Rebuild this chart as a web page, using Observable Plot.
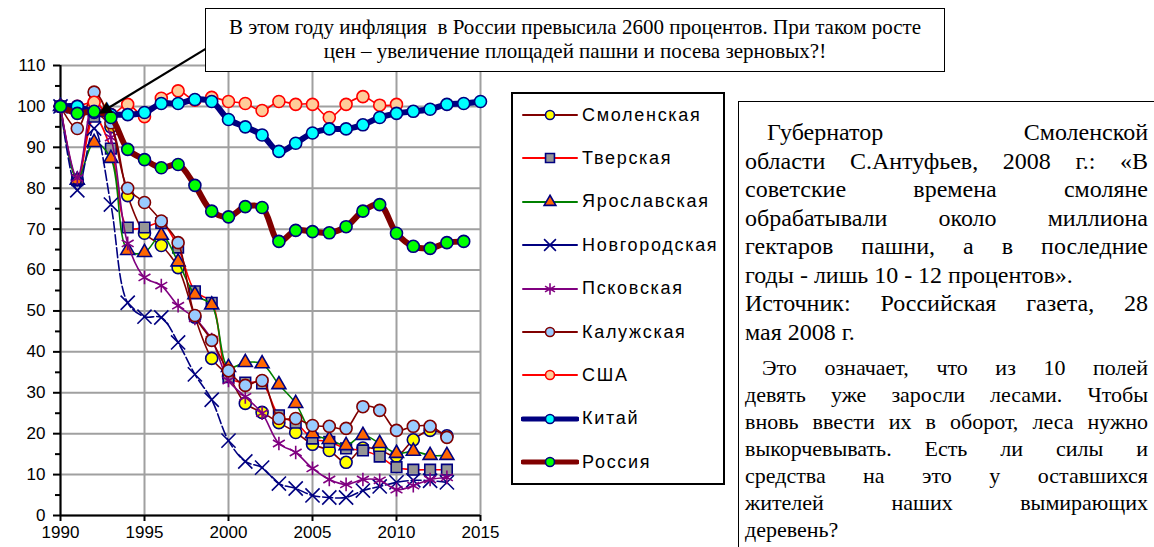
<!DOCTYPE html>
<html><head><meta charset="utf-8">
<script src="https://cdn.jsdelivr.net/npm/d3@7"></script>
<script src="https://cdn.jsdelivr.net/npm/@observablehq/plot@0.6"></script>
<style>
body{margin:0;background:#fff;width:1154px;height:547px;overflow:hidden;position:relative;font-family:"Liberation Sans",Arial,sans-serif}
#chart{position:absolute;left:0;top:0}
#note{position:absolute;left:205px;top:8px;width:740px;height:64px;border:1.5px solid #000;background:#fff;box-sizing:border-box;
 font-family:"Liberation Serif","Times New Roman",serif;font-size:21px;text-align:center;line-height:24px;padding-top:6px;color:#000;white-space:nowrap}
#legend{position:absolute;left:511px;top:92px;width:214px;height:393px;border:2px solid #000;box-sizing:border-box;background:#fff}
.lrow{position:absolute;left:0;height:30px;display:flex;align-items:center}
.lrow span{font-size:18px;letter-spacing:1.7px;margin-left:3px;white-space:nowrap}
#quote{position:absolute;left:738px;top:101px;width:440px;height:460px;border-left:1.5px solid #000;border-top:1.5px solid #000;box-sizing:border-box;
 font-family:"Liberation Serif","Times New Roman",serif;color:#000;padding:16px 0 0 6px}
.ln{width:403px;text-align:justify;text-align-last:justify;white-space:nowrap}
.p1{font-size:24px;line-height:28.5px}
.p2{font-size:22px;line-height:27px}
.last{text-align-last:left}
</style></head><body>
<div id="chart"></div>
<div id="note">В этом году инфляция&nbsp; в России превысила 2600 процентов. При таком росте<br>цен – увеличение площадей пашни и посева зерновых?!</div>
<div id="legend"></div>
<div id="quote">
 <div class="ln p1" style="padding-left:22px;width:381px">Губернатор Смоленской</div>
 <div class="ln p1">области С.Антуфьев, 2008 г.: «В</div>
 <div class="ln p1">советские времена смоляне</div>
 <div class="ln p1">обрабатывали около миллиона</div>
 <div class="ln p1">гектаров пашни, а в последние</div>
 <div class="ln p1 last">годы - лишь 10 - 12 процентов».</div>
 <div class="ln p1">Источник: Российская газета, 28</div>
 <div class="ln p1 last">мая 2008 г.</div>
 <div style="height:8px"></div>
 <div class="ln p2" style="padding-left:17px;width:386px">Это означает, что из 10 полей</div>
 <div class="ln p2">девять уже заросли лесами. Чтобы</div>
 <div class="ln p2">вновь ввести их в оборот, леса нужно</div>
 <div class="ln p2">выкорчевывать. Есть ли силы и</div>
 <div class="ln p2">средства на это у оставшихся</div>
 <div class="ln p2">жителей наших вымирающих</div>
 <div class="ln p2 last">деревень?</div>
</div>
<script>
// ---- data (% of 1990) ----
const firstYear = 1990;
const xTicks = [1990, 1995, 2000, 2005, 2010, 2015];
const yTicks = [0, 10, 20, 30, 40, 50, 60, 70, 80, 90, 100, 110];
const seriesNames = ["Смоленская", "Тверская", "Ярославская", "Новгородская", "Псковская", "Калужская", "США", "Китай", "Россия"];
const smolensk  = [100, 82, 98, 95, 78.2, 69, 66, 60.6, 48.5, 38.4, 34, 27.4, 25.2, 22.7, 20.3, 17.4, 15.9, 13, 16.5, 16, 14.5, 18.5, 20.8, 19.5];
const tver      = [100, 82, 97.5, 89.7, 70.4, 70.4, 71.5, 65.5, 54.8, 52, 33.8, 32.5, 32.3, 24.5, 22.7, 18.8, 18, 16.4, 15.9, 14.4, 11.8, 11.2, 11.2, 11.2];
const yaroslavl = [100, 82, 91.2, 87.3, 64.8, 64.3, 68.5, 62, 54, 51.5, 36.2, 37.4, 37.1, 32, 27.4, 20, 18.6, 17.1, 19.6, 17.6, 15.2, 15.7, 14.7, 14.7];
const novgorod  = [100, 79.5, 94.6, 76, 52, 48.6, 48.4, 42.3, 34.5, 28.3, 18.3, 13.2, 11.7, 7.8, 6.6, 4.9, 4.4, 4.4, 6.1, 7.1, 8.1, 8.6, 8.5, 8.1];
const pskov     = [100, 82.5, 102, 92.4, 66.5, 58.2, 56.2, 51.3, 48.2, 43, 33, 29, 25, 17.6, 15.4, 11.5, 8.8, 7.6, 8.8, 8.6, 6.3, 7.3, 8.8, 9.3];
const kaluga    = [100, 94.6, 103.5, 96, 80, 76.5, 72, 66.7, 48.9, 42.8, 35.4, 31.8, 33, 23.7, 23.7, 22, 21.8, 21.3, 26.6, 25.7, 20.8, 21.8, 21.8, 19.1];
const usa       = [100, 100, 101, 98, 100.5, 97.5, 102, 103.8, 101.5, 102.2, 101.2, 100.7, 99, 101.2, 100.5, 100.5, 97.3, 100.5, 102.4, 100.3, 100.5];
const china     = [100, 100, 98.5, 98, 98, 98.5, 100.7, 100.7, 101.7, 101.2, 96.8, 95, 93, 89, 91, 93.5, 94.5, 94.5, 95.5, 97.3, 98.3, 98.8, 99.3, 100.5, 100.7, 101.2];
const russia    = [100, 98.3, 98.8, 97.3, 89.5, 87, 85, 85.8, 80.7, 74.4, 73, 75.5, 75.3, 67, 69.7, 69.4, 69.1, 70.6, 74.4, 76, 69, 65.8, 65.3, 66.7, 67];
const seriesValues = [smolensk, tver, yaroslavl, novgorod, pskov, kaluga, usa, china, russia];
const arrowFrom = {x: 1999.3, y: 115.7};
const arrowTo = {x: 1992.2, y: 98};

// ---- styles ----
const styles = [
  {line:"#800000", w:1.6, sym:"circle",   fill:"#ffff00", stroke:"#000080", r:6},
  {line:"#ff0000", w:1.6, sym:"square",   fill:"#969696", stroke:"#000080", r:6},
  {line:"#008000", w:1.6, sym:"triangle", fill:"#ff6600", stroke:"#000080", r:5.2},
  {line:"#000080", w:1.6, sym:"times",    fill:"none",    stroke:"#000080", r:6.5, dash:"10,3"},
  {line:"#800080", w:1.6, sym:"asterisk", fill:"none",    stroke:"#800080", r:6.5},
  {line:"#800000", w:1.6, sym:"circle",   fill:"#99ccff", stroke:"#800000", r:6},
  {line:"#ff0000", w:1.6, sym:"circle",   fill:"#ffcc99", stroke:"#ff0000", r:6},
  {line:"#000080", w:6,   sym:"circle",   fill:"#00ffff", stroke:"#000080", r:6},
  {line:"#800000", w:6,   sym:"circle",   fill:"#00ff00", stroke:"#000080", r:6}
];

const tables = seriesValues.map((vals, i) => vals.map((v, j) => ({series: seriesNames[i], year: firstYear + j, value: v})));

// arrow: shaft ends at a filled head drawn as a rotated triangle glyph
const headFrac = 0.05;
const headPos = {x: arrowTo.x + (arrowFrom.x - arrowTo.x) * headFrac, y: arrowTo.y + (arrowFrom.y - arrowTo.y) * headFrac};

const marks = [
  Plot.gridX(xTicks, {stroke:"#a0a0a0", strokeOpacity:1, strokeWidth:2}),
  Plot.gridY(yTicks, {stroke:"#a0a0a0", strokeOpacity:1, strokeWidth:2}),
  Plot.axisX(xTicks, {tickFormat:"d", tickSize:6, tickPadding:4, fontSize:17, strokeWidth:2, label:null}),
  Plot.axisY(yTicks, {tickSize:7, tickPadding:8, fontSize:17, strokeWidth:2, label:null}),
  Plot.axisY(yTicks.slice(0,-1).map(d => d + 5), {tickSize:5, text:null, strokeWidth:2, label:null}),
  Plot.ruleX([1990], {stroke:"#000", strokeWidth:2}),
  Plot.ruleY([0], {stroke:"#000", strokeWidth:2})
];
tables.forEach((t, i) => {
  const s = styles[i];
  marks.push(Plot.line(t, {x:"year", y:"value", stroke:s.line, strokeWidth:s.w, curve:"catmull-rom", strokeDasharray:s.dash}));
  marks.push(Plot.dot(t, {x:"year", y:"value", symbol:s.sym, r:s.r, fill:s.fill, stroke:s.stroke, strokeWidth:1.6}));
});
marks.push(Plot.link([{x1:arrowFrom.x, y1:arrowFrom.y, x2:headPos.x, y2:headPos.y}],
  {x1:"x1", y1:"y1", x2:"x2", y2:"y2", stroke:"#000", strokeWidth:2.2}));
marks.push(Plot.text([headPos], {x:"x", y:"y", text:() => "▲", fontSize:17, fill:"#000", rotate:238.8,
  textAnchor:"middle", lineAnchor:"middle", fontFamily:"'DejaVu Sans', sans-serif"}));

const chart = Plot.plot({
  width: 500, height: 547,
  marginLeft: 60, marginRight: 20, marginTop: 65, marginBottom: 32,
  x: {domain: [1990, 2015]},
  y: {domain: [0, 110]},
  style: {fontFamily: "'Liberation Sans', Arial, sans-serif", fontSize: "17px", color: "#000", background: "transparent", overflow: "visible"},
  marks
});
document.getElementById("chart").appendChild(chart);

// ---- legend ----
const legend = document.getElementById("legend");
seriesNames.forEach((name, i) => {
  const s = styles[i];
  const row = document.createElement("div");
  row.className = "lrow";
  row.style.top = (6 + i * 43.4) + "px";
  row.style.left = "8px";
  const svg = d3.create("svg").attr("width", 58).attr("height", 30);
  svg.append("line").attr("x1", 2).attr("x2", 56).attr("y1", 15).attr("y2", 15)
     .attr("stroke", s.line).attr("stroke-width", s.w === 6 ? 5 : 2).attr("stroke-linecap", "round");
  const symMap = {circle: d3.symbolCircle, square: d3.symbolSquare, triangle: d3.symbolTriangle, times: d3.symbolTimes, asterisk: d3.symbolAsterisk};
  const size = s.sym === "circle" ? Math.PI * 4.5 * 4.5 : Math.PI * s.r * s.r * 0.7;
  svg.append("path").attr("d", d3.symbol(symMap[s.sym], size)()).attr("transform", "translate(29,15)")
     .attr("fill", s.fill).attr("stroke", s.stroke).attr("stroke-width", 1.6);
  row.appendChild(svg.node());
  const sp = document.createElement("span");
  sp.textContent = name;
  row.appendChild(sp);
  legend.appendChild(row);
});
</script>
</body></html>
